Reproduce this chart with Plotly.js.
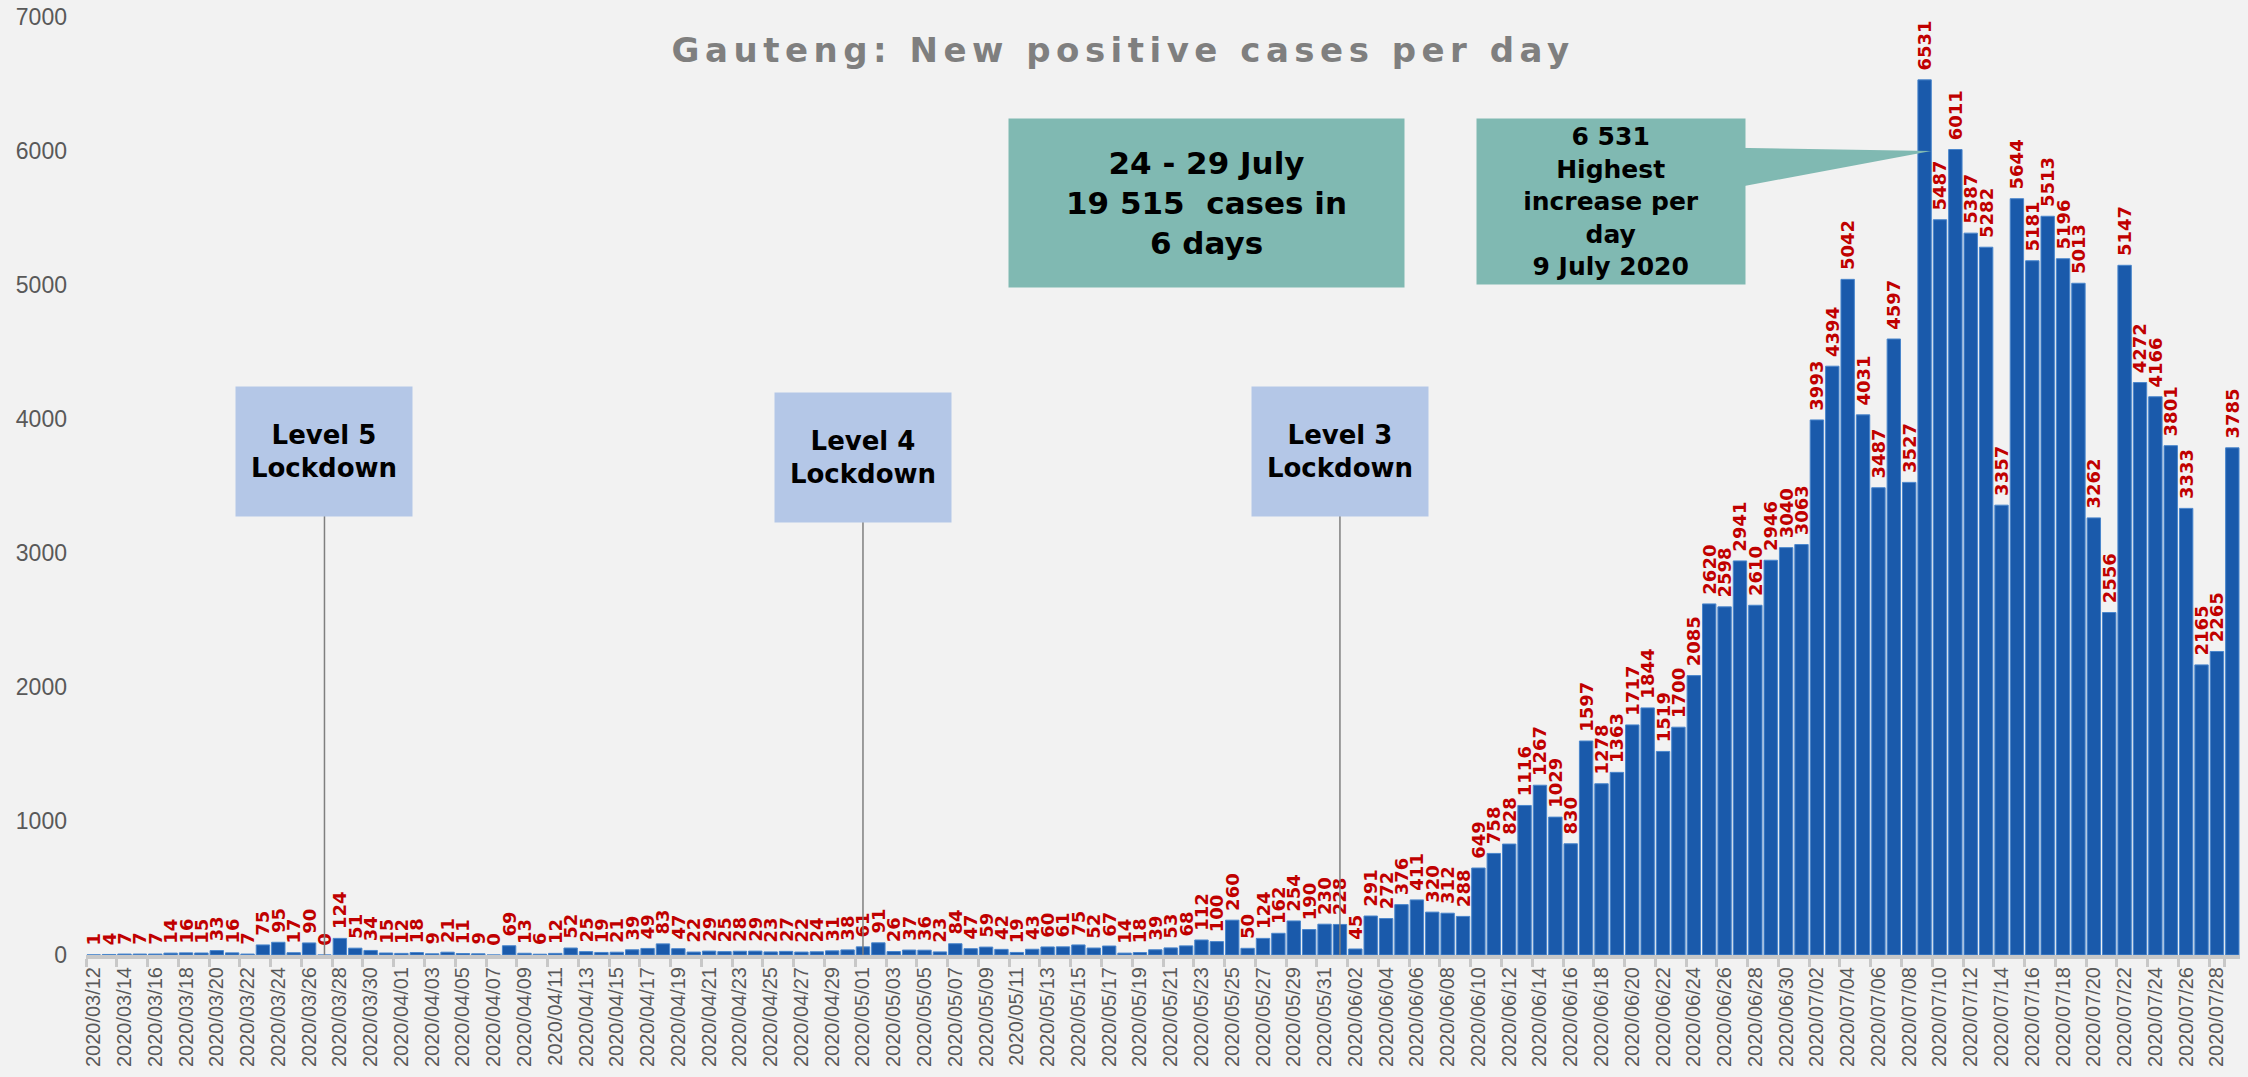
<!DOCTYPE html>
<html><head><meta charset="utf-8">
<script src="https://cdn.plot.ly/plotly-3.0.1.min.js"></script>
<style>
html,body{margin:0;padding:0;background:#f2f2f2;}
#chart{width:2248px;height:1077px;}
#chart .gtitle{letter-spacing:5.5px;}
</style></head><body><div id="chart"></div>
<script>
const dates = [
'2020/03/12','2020/03/13','2020/03/14','2020/03/15','2020/03/16','2020/03/17','2020/03/18','2020/03/19','2020/03/20','2020/03/21',
'2020/03/22','2020/03/23','2020/03/24','2020/03/25','2020/03/26','2020/03/27','2020/03/28','2020/03/29','2020/03/30','2020/03/31',
'2020/04/01','2020/04/02','2020/04/03','2020/04/04','2020/04/05','2020/04/06','2020/04/07','2020/04/08','2020/04/09','2020/04/10',
'2020/04/11','2020/04/12','2020/04/13','2020/04/14','2020/04/15','2020/04/16','2020/04/17','2020/04/18','2020/04/19','2020/04/20',
'2020/04/21','2020/04/22','2020/04/23','2020/04/24','2020/04/25','2020/04/26','2020/04/27','2020/04/28','2020/04/29','2020/04/30',
'2020/05/01','2020/05/02','2020/05/03','2020/05/04','2020/05/05','2020/05/06','2020/05/07','2020/05/08','2020/05/09','2020/05/10',
'2020/05/11','2020/05/12','2020/05/13','2020/05/14','2020/05/15','2020/05/16','2020/05/17','2020/05/18','2020/05/19','2020/05/20',
'2020/05/21','2020/05/22','2020/05/23','2020/05/24','2020/05/25','2020/05/26','2020/05/27','2020/05/28','2020/05/29','2020/05/30',
'2020/05/31','2020/06/01','2020/06/02','2020/06/03','2020/06/04','2020/06/05','2020/06/06','2020/06/07','2020/06/08','2020/06/09',
'2020/06/10','2020/06/11','2020/06/12','2020/06/13','2020/06/14','2020/06/15','2020/06/16','2020/06/17','2020/06/18','2020/06/19',
'2020/06/20','2020/06/21','2020/06/22','2020/06/23','2020/06/24','2020/06/25','2020/06/26','2020/06/27','2020/06/28','2020/06/29',
'2020/06/30','2020/07/01','2020/07/02','2020/07/03','2020/07/04','2020/07/05','2020/07/06','2020/07/07','2020/07/08','2020/07/09',
'2020/07/10','2020/07/11','2020/07/12','2020/07/13','2020/07/14','2020/07/15','2020/07/16','2020/07/17','2020/07/18','2020/07/19',
'2020/07/20','2020/07/21','2020/07/22','2020/07/23','2020/07/24','2020/07/25','2020/07/26','2020/07/27','2020/07/28','2020/07/29'
];
const cases = [
1,4,7,7,7,14,16,15,33,16,
7,75,95,17,90,0,124,51,34,15,
12,18,9,21,11,9,0,69,13,6,
12,52,25,19,21,39,49,83,47,22,
29,25,28,29,23,27,22,24,31,38,
61,91,26,37,36,23,84,47,59,42,
19,43,60,61,75,52,67,14,18,39,
53,68,112,100,260,50,124,162,254,190,
230,228,45,291,272,376,411,320,312,288,
649,758,828,1116,1267,1029,830,1597,1278,1363,
1717,1844,1519,1700,2085,2620,2598,2941,2610,2946,
3040,3063,3993,4394,5042,4031,3487,4597,3527,6531,
5487,6011,5387,5282,3357,5644,5181,5513,5196,5013,
3262,2556,5147,4272,4166,3801,3333,2165,2265,3785
];
const tickDates = dates.filter((d, i) => i % 2 === 0);
const yTicks = [0,1000,2000,3000,4000,5000,6000,7000];

const lockdownDates = ['2020/03/27','2020/05/01','2020/06/01'];
const lockdownTexts = ['<b>Level 5<br>Lockdown</b>','<b>Level 4<br>Lockdown</b>','<b>Level 3<br>Lockdown</b>'];
const lockdownBoxY = [3757, 3713, 3757];

const titleText = '<b>Gauteng: New positive cases per day</b>';
const summaryText = '<b>24 - 29 July<br>19 515  cases in<br>6 days</b>';
const peakText = '<b>6 531<br>Highest<br>increase per<br>day<br>9 July 2020</b>';

const N = dates.length;
const bargap = 0.13;
const peakIdx = cases.indexOf(Math.max(...cases));

const trace = {
  type: 'bar',
  x: dates,
  y: cases,
  text: cases.map(v => '\u00a0' + v),
  textposition: 'outside',
  textangle: -90,
  constraintext: 'none',
  cliponaxis: false,
  textfont: {family: 'DejaVu Sans', size: 18, color: '#c00000', weight: 700},
  marker: {color: '#1a5aab', line: {color: '#4a86cc', width: 1}},
  hoverinfo: 'x+y'
};

const shapes = lockdownDates.map((d, i) => ({
  type: 'line', xref: 'x', yref: 'y', x0: d, x1: d, y0: 0, y1: lockdownBoxY[i],
  line: {color: '#7f7f7f', width: 1.5}, layer: 'above'
}));
// callout pointer
const tipX = (peakIdx + 0.5 + (1 - bargap) / 2) / N;
shapes.push({
  type: 'path', xref: 'paper', yref: 'y',
  path: `M 0.765 6025 L ${tipX} 6000 L 0.765 5724 Z`,
  fillcolor: '#80b9b2', line: {width: 0}, layer: 'above'
});

const annotations = lockdownDates.map((d, i) => ({
  xref: 'x', yref: 'y', x: d, y: lockdownBoxY[i], xanchor: 'center', yanchor: 'middle',
  text: lockdownTexts[i], showarrow: false,
  width: 176, height: 129, bgcolor: '#b4c7e7', borderpad: 0,
  font: {family: 'DejaVu Sans', size: 26, color: '#000000'}
}));
annotations.push({
  xref: 'paper', yref: 'y', x: 0.520, y: 5612, xanchor: 'center', yanchor: 'middle',
  text: summaryText, showarrow: false,
  width: 395, height: 168, bgcolor: '#80b9b2', borderpad: 0,
  font: {family: 'DejaVu Sans', size: 31, color: '#000000'}
});
annotations.push({
  xref: 'paper', yref: 'y', x: 0.708, y: 5625, xanchor: 'center', yanchor: 'middle',
  text: peakText, showarrow: false,
  width: 268, height: 165, bgcolor: '#80b9b2', borderpad: 0,
  font: {family: 'DejaVu Sans', size: 25, color: '#000000'}
});

const layout = {
  width: 2248, height: 1077,
  paper_bgcolor: '#f2f2f2', plot_bgcolor: '#f2f2f2',
  margin: {l: 86, r: 8, t: 17, b: 122},
  bargap: bargap,
  showlegend: false,
  title: {
    text: titleText, x: 0.4996, xref: 'container', y: 0.9536, yref: 'container',
    xanchor: 'center', yanchor: 'middle',
    font: {family: 'DejaVu Sans', size: 34, color: '#7f7f7f'}
  },
  xaxis: {
    type: 'category',
    tickmode: 'array', tickvals: tickDates, ticktext: tickDates,
    tickson: 'boundaries',
    tickangle: -90,
    ticks: 'outside', ticklen: 8, tickwidth: 3, tickcolor: '#c8c8c8',
    showline: true, linecolor: '#c8c8c8', linewidth: 4,
    showgrid: false, zeroline: false,
    tickfont: {family: 'Liberation Sans, Arial', size: 20, color: '#595959'}
  },
  yaxis: {
    range: [0, 7000],
    tickmode: 'array', tickvals: yTicks, ticktext: yTicks.map(String),
    ticks: '', ticklabelstandoff: 18,
    showline: false, showgrid: false, zeroline: false,
    tickfont: {family: 'Liberation Sans, Arial', size: 23, color: '#595959'}
  },
  shapes: shapes,
  annotations: annotations
};

Plotly.newPlot('chart', [trace], layout, {displayModeBar: false, responsive: false});
</script></body></html>
